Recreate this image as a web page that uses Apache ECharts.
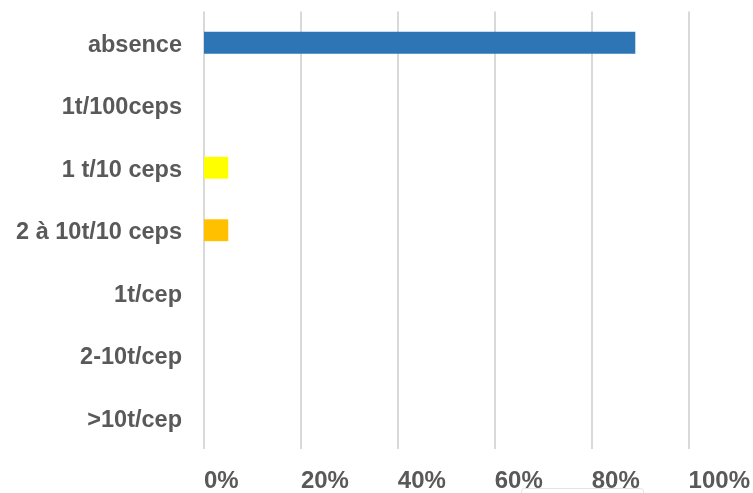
<!DOCTYPE html>
<html>
<head>
<meta charset="utf-8">
<script src="https://cdn.jsdelivr.net/npm/echarts@6/dist/echarts.min.js"></script>
<style>
  html, body { margin: 0; padding: 0; background: #ffffff; }
  #chart { width: 753px; height: 493px; }
</style>
</head>
<body>
<div id="chart"></div>
<script>
// Categories, top to bottom
const categories = ['absence', '1t/100ceps', '1 t/10 ceps', '2 à 10t/10 ceps', '1t/cep', '2-10t/cep', '>10t/cep'];
// Share of each class, in percent
const shares = [89, 0, 5, 5, 0, 0, 0];
// Fill colour of each class
const barColors = ['#2E75B6', '#2E75B6', '#FFFF00', '#FFC000', '#2E75B6', '#2E75B6', '#2E75B6'];
// Percentage axis ticks
const tickValues = [0, 20, 40, 60, 80, 100];

const labelFont = {
  color: '#595959',
  fontFamily: 'Liberation Sans, Arial, sans-serif',
  fontWeight: 'bold'
};

const chart = echarts.init(document.getElementById('chart'), null, { renderer: 'canvas' });

chart.setOption({
  animation: false,
  backgroundColor: '#ffffff',
  grid: { left: 204, right: 64, top: 11.5, bottom: 40.5, containLabel: false },
  xAxis: {
    type: 'value',
    min: tickValues[0],
    max: tickValues[tickValues.length - 1],
    interval: 20,
    axisLine: { show: false },
    axisTick: { show: false },
    splitLine: { show: true, lineStyle: { color: '#d9d9d9', width: 2 } },
    axisLabel: Object.assign({
      formatter: v => v + '%',
      align: 'left',
      margin: 20,
      fontSize: 24
    }, labelFont)
  },
  yAxis: {
    type: 'category',
    data: categories,
    inverse: true,
    axisLine: { show: false },
    axisTick: { show: false },
    splitLine: { show: false },
    axisLabel: Object.assign({
      margin: 22,
      fontSize: 23.5,
      formatter: v => '{c|' + v + '}',
      rich: {
        c: Object.assign({ fontSize: 23.5, padding: [5, 0, 0, 0] }, labelFont)
      }
    }, labelFont)
  },
  series: [{
    type: 'bar',
    barWidth: '35%',
    data: shares.map((v, i) => ({ value: v, itemStyle: { color: barColors[i] } }))
  }],
  graphic: [{
    type: 'rect',
    z: 100,
    shape: { x: 521.5, y: 488.5, width: 122, height: 12, r: 3 },
    style: { fill: '#ffffff', stroke: '#e4e4e4', lineWidth: 1 }
  }]
});
</script>
</body>
</html>
